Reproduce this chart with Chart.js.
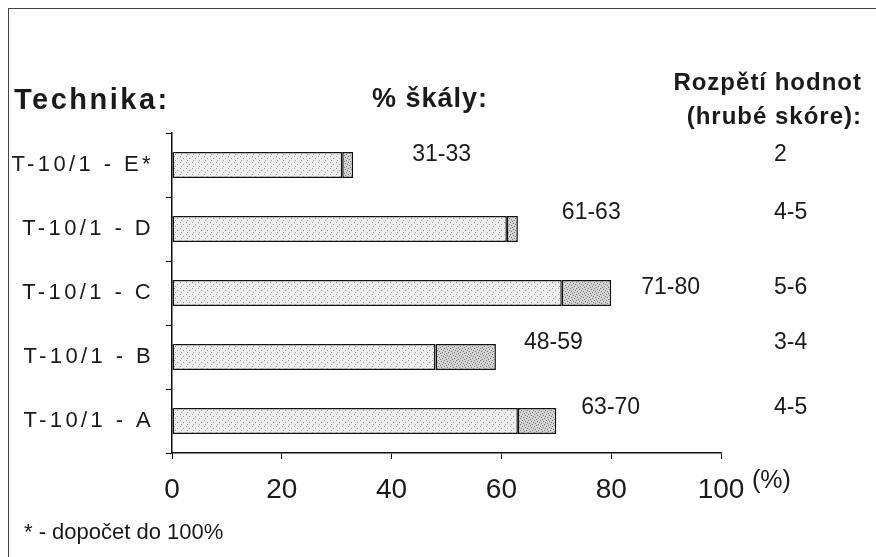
<!DOCTYPE html>
<html>
<head>
<meta charset="utf-8">
<script src="https://cdn.jsdelivr.net/npm/chart.js@4/dist/chart.umd.min.js"></script>
<style>
  body { margin: 0; background: #fff; }
  #wrap { position: relative; width: 876px; height: 557px; overflow: hidden; }
  #frame { position: absolute; left: 8px; top: 8px; width: 900px; height: 600px;
           border-left: 1px solid #444; border-top: 1px solid #444; }
  #c { position: absolute; left: 0; top: 0; }
</style>
</head>
<body>
<div id="wrap">
  <div id="frame"></div>
  <canvas id="c" width="876" height="557"></canvas>
</div>
<script>
// data
var categories = ['T-10/1 - E*', 'T-10/1 - D', 'T-10/1 - C', 'T-10/1 - B', 'T-10/1 - A'];
var lowValues  = [31, 61, 71, 48, 63];
var highValues = [33, 63, 80, 59, 70];
var rangeLabels = ['31-33', '61-63', '71-80', '48-59', '63-70'];
var rawScores   = ['2', '4-5', '5-6', '3-4', '4-5'];
var xTicks = [0, 20, 40, 60, 80, 100];

// stippled fills like the scanned original
function stipple(base, dot, dots) {
    var c = document.createElement('canvas');
    c.width = 6; c.height = 6;
    var g = c.getContext('2d');
    g.fillStyle = base;
    g.fillRect(0, 0, 6, 6);
    g.fillStyle = dot;
    dots.forEach(function (p) { g.fillRect(p[0], p[1], 1, 1); });
    return g.createPattern(c, 'repeat');
}
var lightFill = stipple('#eeeeee', '#a0a0a0', [[0, 0], [3, 2], [1, 4]]);
var darkFill = stipple('#d4d4d4', '#777777', [[0, 0], [3, 1], [1, 3], [4, 4], [5, 2], [2, 5]]);

var upper = highValues.map(function (h, i) { return [lowValues[i], h]; });

// nudges for the text next to each bar (px right of bar end, px from bar centre)
var labelNudge = [[59, -10], [44, -16], [30, -5], [28, -14], [25, -13]];

var textPlugin = {
    id: 'texts',
    beforeDraw: function (chart) {
        // only the category labels are spaced out
        chart.ctx.letterSpacing = '3.4px';
    },
    beforeDatasetsDraw: function (chart) {
        chart.ctx.letterSpacing = '0px';
    },
    afterDraw: function (chart) {
        var ctx = chart.ctx;
        var xs = chart.scales.x, ys = chart.scales.y;
        ctx.save();
        ctx.letterSpacing = '0px';
        ctx.fillStyle = '#1a1a1a';
        ctx.textBaseline = 'middle';

        ctx.font = '23px "Liberation Sans", Arial, sans-serif';
        ctx.textAlign = 'left';
        for (var i = 0; i < categories.length; i++) {
            var y = ys.getPixelForValue(i) + labelNudge[i][1];
            ctx.fillText(rangeLabels[i], xs.getPixelForValue(highValues[i]) + labelNudge[i][0], y);
            ctx.fillText(rawScores[i], xs.right + 53, y);
        }

        ctx.font = '25px "Liberation Sans", Arial, sans-serif';
        ctx.fillText('(%)', xs.right + 31, xs.top + 28);
        ctx.font = '22px "Liberation Sans", Arial, sans-serif';
        ctx.fillText('* - dopočet do 100%', 24, 533);

        ctx.font = 'bold 29px "Liberation Sans", Arial, sans-serif';
        ctx.letterSpacing = '2.5px';
        ctx.fillText('Technika:', 14, 101);
        ctx.font = 'bold 27px "Liberation Sans", Arial, sans-serif';
        ctx.letterSpacing = '1px';
        ctx.fillText('% škály:', 372, 100);
        ctx.font = 'bold 24px "Liberation Sans", Arial, sans-serif';
        ctx.textAlign = 'right';
        ctx.fillText('Rozpětí hodnot', 862, 83);
        ctx.fillText('(hrubé skóre):', 862, 117);
        ctx.restore();
    }
};

new Chart(document.getElementById('c'), {
    type: 'bar',
    data: {
        labels: categories,
        datasets: [{
            label: 'dolní mez',
            data: lowValues,
            backgroundColor: lightFill,
            borderColor: '#111',
            borderWidth: 1.5,
            borderSkipped: false,
            grouped: false
        }, {
            label: 'rozpětí',
            data: upper,
            backgroundColor: darkFill,
            borderColor: '#111',
            borderWidth: 1.5,
            borderSkipped: false,
            grouped: false
        }]
    },
    options: {
        indexAxis: 'y',
        responsive: false,
        animation: false,
        devicePixelRatio: 1,
        barPercentage: 0.41,
        categoryPercentage: 1,
        layout: { padding: { top: 133, right: 155, bottom: 0, left: 0 } },
        plugins: { legend: { display: false }, tooltip: { enabled: false } },
        scales: {
            x: {
                min: 0,
                max: 100,
                afterBuildTicks: function (scale) {
                    scale.ticks = xTicks.map(function (v) { return { value: v }; });
                },
                afterFit: function (scale) { scale.height = 104; },
                grid: { drawOnChartArea: false, drawTicks: true, tickLength: 6, color: '#111', lineWidth: 1 },
                border: { display: true, color: '#111', width: 1.5 },
                ticks: { z: 1, color: '#1a1a1a', padding: 14, maxRotation: 0,
                         font: { family: '"Liberation Sans", Arial, sans-serif', size: 28 } }
            },
            y: {
                afterFit: function (scale) { scale.width = 172; },
                grid: { drawOnChartArea: false, drawTicks: true, tickLength: 6, color: '#111', lineWidth: 1, offset: true },
                border: { display: true, color: '#111', width: 1.5 },
                ticks: { color: '#1a1a1a', padding: 12,
                         font: { family: '"Liberation Sans", Arial, sans-serif', size: 22 } }
            }
        }
    },
    plugins: [textPlugin]
});
</script>
</body>
</html>
